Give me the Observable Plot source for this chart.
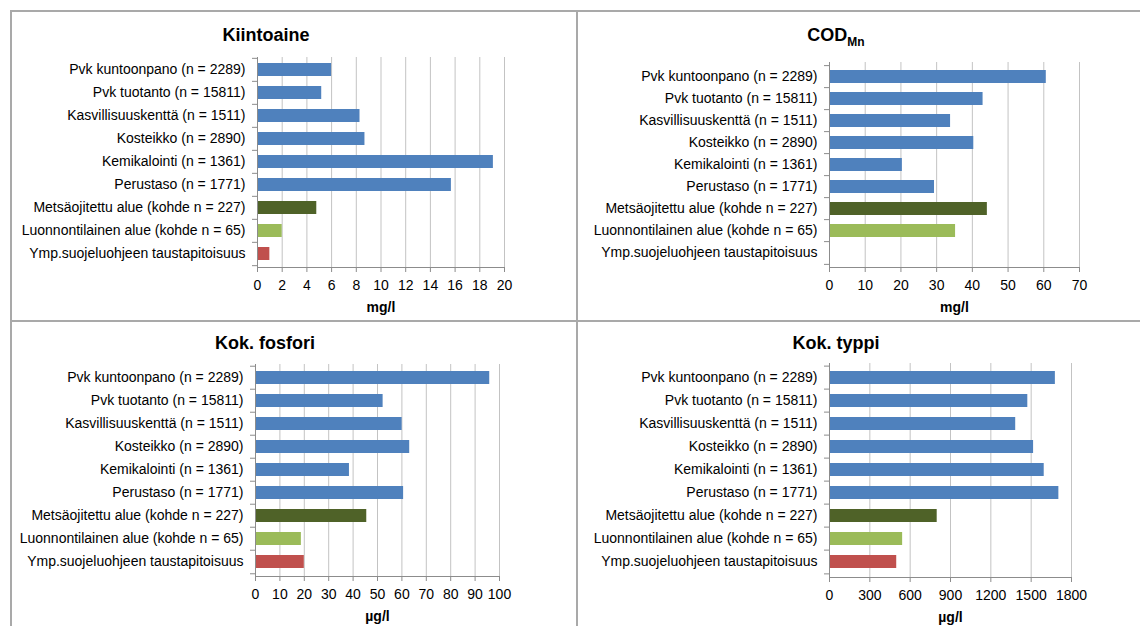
<!DOCTYPE html>
<html><head><meta charset="utf-8">
<script src="https://cdn.jsdelivr.net/npm/d3@7"></script>
<script src="https://cdn.jsdelivr.net/npm/@observablehq/plot@0.6"></script>
<style>
body{margin:0;background:#fff;font-family:"Liberation Sans",Arial,sans-serif;}
#page{position:relative;width:1140px;height:626px;overflow:hidden;background:#fff;}
.panel{position:absolute;}
.title{position:absolute;font-weight:bold;font-size:18px;line-height:20px;transform:translate(-50%,-50%);white-space:nowrap;color:#000;z-index:3}
.title sub{font-size:12px;line-height:0;vertical-align:-5px}
.line{position:absolute;background:#a9a9a9;z-index:2}
</style></head><body><div id="page"></div>
<script>
// ---- data ----
const categories = [
  "Pvk kuntoonpano (n = 2289)",
  "Pvk tuotanto (n = 15811)",
  "Kasvillisuuskenttä (n = 1511)",
  "Kosteikko (n = 2890)",
  "Kemikalointi (n = 1361)",
  "Perustaso (n = 1771)",
  "Metsäojitettu alue (kohde n = 227)",
  "Luonnontilainen alue (kohde n = 65)",
  "Ymp.suojeluohjeen taustapitoisuus"
];
const kiintoaine = [6.0, 5.2, 8.3, 8.7, 19.1, 15.7, 4.8, 2.0, 1.0];
const codMn      = [60.7, 43.0, 33.9, 40.4, 20.4, 29.4, 44.2, 35.3, null];
const kokFosfori = [96.0, 52.3, 60.1, 63.2, 38.5, 60.7, 45.6, 18.8, 20.0];
const kokTyppi   = [1680, 1475, 1385, 1518, 1597, 1706, 801, 544, 500];
const ticksKiintoaine = [0, 2, 4, 6, 8, 10, 12, 14, 16, 18, 20];
const ticksCod        = [0, 10, 20, 30, 40, 50, 60, 70];
const ticksFosfori    = [0, 10, 20, 30, 40, 50, 60, 70, 80, 90, 100];
const ticksTyppi      = [0, 300, 600, 900, 1200, 1500, 1800];
const titles = ["Kiintoaine", "COD<sub>Mn</sub>", "Kok. fosfori", "Kok. typpi"];
const units = ["mg/l", "mg/l", "µg/l", "µg/l"];

// ---- styles ----
const barColors = ["#4F81BD","#4F81BD","#4F81BD","#4F81BD","#4F81BD","#4F81BD","#4F6228","#9BBB59","#C0504D"];
const layouts = [
  {left:0,   top:0,   width:576, height:320, ml:257, mr:72, mt:57, mb:53, tx:266, ty:35},
  {left:577, top:0,   width:563, height:320, ml:252, mr:61, mt:62, mb:53, tx:836, ty:35},
  {left:0,   top:321, width:576, height:305, ml:255, mr:77, mt:43, mb:50, tx:265, ty:343},
  {left:577, top:321, width:563, height:305, ml:252, mr:69, mt:42, mb:49, tx:836, ty:343}
];
const axisGray = "#8c8c8c";

function makePanel(values, ticks, unit, L) {
  const data = categories.map((c, i) => ({category: c, value: values[i], color: barColors[i]}));
  const H = L.height - L.mt - L.mb;
  const step = H / categories.length;
  return Plot.plot({
    width: L.width, height: L.height,
    marginLeft: L.ml, marginRight: L.mr, marginTop: L.mt, marginBottom: L.mb,
    style: {fontFamily: "'Liberation Sans', Arial, sans-serif", fontSize: "14px", color: "#000", background: "none", overflow: "visible"},
    x: {domain: [ticks[0], ticks[ticks.length - 1]], ticks: ticks, tickFormat: d => String(d)},
    y: {domain: categories, paddingInner: 0.43, paddingOuter: 0.215, align: 0.5},
    color: {type: "identity"},
    marks: [
      Plot.gridX(ticks, {stroke: "#c3c3c3", strokeOpacity: 1}),
      Plot.barX(data, {x: "value", y: "category", fill: "color"}),
      Plot.ruleX([0], {stroke: axisGray}),
      Plot.frame({anchor: "bottom", stroke: axisGray}),
      Plot.axisX(ticks, {tickSize: 5, tickPadding: 8, stroke: axisGray, fill: "#000", fontSize: 14, label: null, tickFormat: d => String(d)}),
      Plot.axisY({tickSize: 5, fill: "none", stroke: axisGray, dy: -step / 2, label: null}),
      Plot.axisY([categories[categories.length - 1]], {tickSize: 5, fill: "none", stroke: axisGray, dy: step / 2, label: null}),
      Plot.axisY({tickSize: 0, tickPadding: 12, fill: "#000", fontSize: 14, label: null}),
      Plot.text([unit], {frameAnchor: "bottom", dy: 44, fontWeight: "bold", fontSize: 14, fill: "#000"})
    ]
  });
}

const page = document.getElementById("page");
const series = [kiintoaine, codMn, kokFosfori, kokTyppi];
const tickSets = [ticksKiintoaine, ticksCod, ticksFosfori, ticksTyppi];
series.forEach((vals, i) => {
  const L = layouts[i];
  const div = document.createElement("div");
  div.className = "panel";
  div.style.left = L.left + "px";
  div.style.top = L.top + "px";
  div.appendChild(makePanel(vals, tickSets[i], units[i], L));
  page.appendChild(div);
  const t = document.createElement("div");
  t.className = "title";
  t.style.left = L.tx + "px";
  t.style.top = L.ty + "px";
  t.innerHTML = titles[i];
  page.appendChild(t);
});
// panel borders
[[10,10,1130,2],[10,10,2,616],[576,10,2,616],[10,320,1130,2]].forEach(([l,t,w,h]) => {
  const d = document.createElement("div");
  d.className = "line";
  Object.assign(d.style, {left: l + "px", top: t + "px", width: w + "px", height: h + "px"});
  page.appendChild(d);
});
</script>
</body></html>
